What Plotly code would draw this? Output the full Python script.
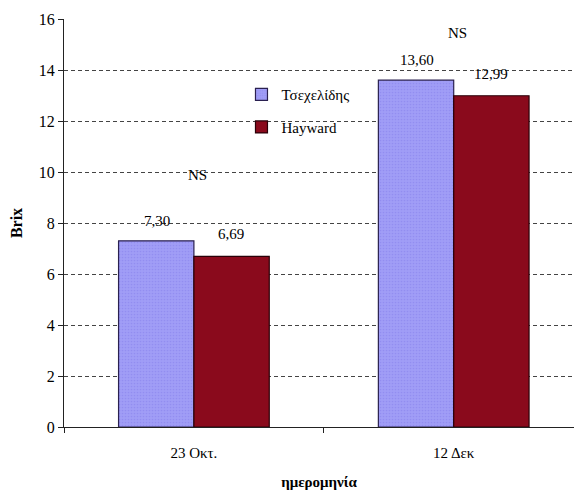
import plotly.graph_objects as go

categories = ["23 Οκτ.", "12 Δεκ"]
tsexelidis = [7.30, 13.60]
hayward = [6.69, 12.99]
series_names = ["Τσεχελίδης", "Hayward"]
significance = ["NS", "NS"]
sig_y = [9.9, 15.45]
y_ticks = [0, 2, 4, 6, 8, 10, 12, 14, 16]

FONT = "'Liberation Serif', 'Times New Roman', serif"
BLUE = "#a09df6"
RED = "#8a0a1c"

def fmt(v):
    return f"{v:.2f}".replace(".", ",")

fig = go.Figure()
fig.add_trace(go.Bar(
    x=categories, y=tsexelidis, name=series_names[0], legendgroup="a",
    marker=dict(color=BLUE, line=dict(color="#2a2050", width=1.2),
                pattern=dict(shape=".", size=3, solidity=0.25, fgcolor="#8480ea")),
))
fig.add_trace(go.Bar(
    x=categories, y=hayward, name=series_names[1], legendgroup="b",
    marker=dict(color=RED, line=dict(color="#2a0008", width=1.2)),
))

annotations = []
for i, c in enumerate(categories):
    annotations.append(dict(x=c, y=tsexelidis[i], text=fmt(tsexelidis[i]), showarrow=False,
                            xshift=-37, yanchor="bottom", yshift=10,
                            font=dict(family=FONT, size=15, color="black")))
    annotations.append(dict(x=c, y=hayward[i], text=fmt(hayward[i]), showarrow=False,
                            xshift=37, yanchor="bottom", yshift=12,
                            font=dict(family=FONT, size=15, color="black")))
    annotations.append(dict(x=c, y=sig_y[i], text=significance[i], showarrow=False,
                            xshift=4,
                            font=dict(family=FONT, size=15, color="black")))

fig.update_layout(
    width=574, height=496,
    margin=dict(l=64, r=0, t=19, b=69),
    paper_bgcolor="white", plot_bgcolor="white",
    barmode="group", bargap=0.42, bargroupgap=0,
    font=dict(family=FONT, size=15, color="black"),
    showlegend=True,
    legend=dict(x=0.348, y=0.855, xanchor="left", yanchor="top",
                bgcolor="rgba(0,0,0,0)", tracegroupgap=10,
                font=dict(family=FONT, size=15, color="black"),
                itemwidth=30),
    annotations=annotations,
    xaxis=dict(
        range=[-0.5, 1.463], showgrid=False, showline=True, linecolor="#222",
        linewidth=1, ticks="outside", tickson="boundaries", ticklen=5,
        tickcolor="#222", ticklabelstandoff=12,
        tickfont=dict(family=FONT, size=15),
        title=dict(text="<b>ημερομηνία</b>", font=dict(family=FONT, size=15), standoff=16),
    ),
    yaxis=dict(
        range=[0, 16], tickvals=y_ticks, showgrid=True, gridcolor="#444",
        griddash="4px,3px", gridwidth=1, showline=True, linecolor="#222", linewidth=1,
        ticks="outside", ticklen=5, tickcolor="#222", zeroline=False,
        tickfont=dict(family=FONT, size=16),
        title=dict(text="<b>Brix</b>", font=dict(family=FONT, size=16), standoff=12),
    ),
)

fig.write_html(
    "out.html",
    config={"displayModeBar": False},
    post_script="document.body.style.margin='0';document.body.style.overflow='hidden';",
)
